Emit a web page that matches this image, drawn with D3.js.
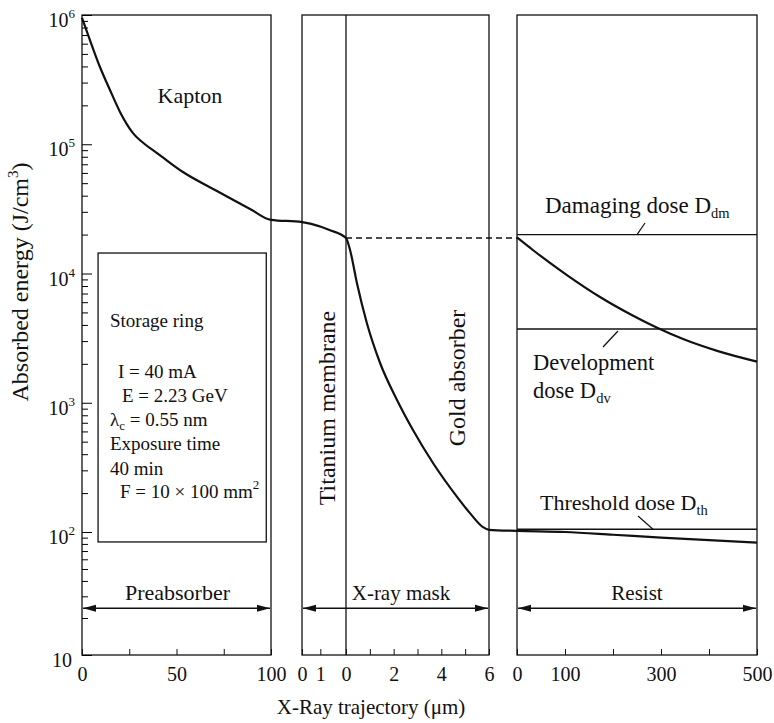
<!DOCTYPE html>
<html lang="en">
<head>
<meta charset="UTF-8">
<script src="https://cdnjs.cloudflare.com/ajax/libs/d3/7.8.5/d3.min.js"></script>
<style>
  body { margin: 0; background: #fff; }
  svg { font-family: "Liberation Serif", "Times New Roman", serif; fill: #111; }
</style>
</head>
<body>
<svg id="chart" width="774" height="723"></svg>
<script>
// depth in each layer (um) and absorbed energy (J/cm3)
const kaptonDepth = [0, 4.2, 9.5, 14.8, 20.1, 27, 33.3, 39.7, 53.4, 71.4, 88.9, 100];
const kaptonDose = [9.5e5, 6.4e5, 3.96e5, 2.63e5, 1.78e5, 1.22e5, 1.0e5, 8.55e4, 6.1e4, 4.35e4, 3.16e4, 2.6e4];
const titanDepth = [0, 0.5, 1.5, 2.4];
const titanDose = [2.5e4, 2.42e4, 2.17e4, 1.88e4];
const goldDepth = [0, 0.17, 0.46, 0.88, 1.43, 2.14, 2.81, 3.65, 4.66, 5.2, 5.75, 6];
const goldDose = [1.88e4, 1.52e4, 8.4e3, 4.1e3, 2.03e3, 1.05e3, 615, 342, 187, 140, 109, 104];
// resist under the gold absorber
const resistDepth = [0, 100, 200, 300, 400, 500];
const resistDoseMasked = [102, 100, 95, 90, 86, 82];
// resist under the membrane only
const resistOpenDepth = [0, 33, 104, 173, 242, 292, 346, 417, 500];
const resistDoseOpen = [1.9e4, 1.52e4, 9.73e3, 6.58e3, 4.71e3, 3.8e3, 3.11e3, 2.52e3, 2.08e3];
const damagingDose = 2.0e4, developmentDose = 3.72e3, thresholdDose = 105;

const yExponents = [1, 2, 3, 4, 5, 6];

const svg = d3.select('#chart');
const y = d3.scaleLog().domain([10, 100, 1e6]).range([655, 532, 15]);
const xK = d3.scaleLinear().domain([0, 100]).range([82, 271]);
const xT = d3.scaleLinear().domain([0, 2.4]).range([302, 346]);
const xG = d3.scaleLinear().domain([0, 6]).range([346, 489]);
const xR = d3.scaleLinear().domain([0, 500]).range([517, 757]);

const yTop = y(1e6), yBot = y(10);
const frame = svg.append('g').attr('fill', 'none').attr('stroke', '#111').attr('stroke-width', 1.3);

// panel frames
[[xK(0), xK(100)], [xT(0), xG(6)], [xR(0), xR(500)]].forEach(([a, b]) => {
    frame.append('rect').attr('x', a).attr('y', yTop).attr('width', b - a).attr('height', yBot - yTop);
});
frame.append('line').attr('x1', xG(0)).attr('x2', xG(0)).attr('y1', yTop).attr('y2', yBot);

// storage ring info box
frame.append('rect')
    .attr('x', xK(8.5)).attr('y', y(1.44e4))
    .attr('width', xK(97.5) - xK(8.5)).attr('height', y(83) - y(1.44e4));

// y ticks (inside)
const minors = [];
yExponents.slice(0, 5).forEach(e => { for (let k = 2; k <= 9; k++) minors.push(k * Math.pow(10, e)); });
const noDomain = g => g.select('.domain').remove();
svg.append('g').attr('transform', `translate(${xK(0)},0)`)
    .call(d3.axisRight(y).tickValues(minors).tickSize(6).tickFormat('')).call(noDomain);
svg.append('g').attr('transform', `translate(${xK(0)},0)`)
    .call(d3.axisRight(y).tickValues(yExponents.map(e => Math.pow(10, e))).tickSize(10).tickFormat('')).call(noDomain);

yExponents.forEach(e => {
    const t = svg.append('text').attr('text-anchor', 'end').attr('font-size', 20)
        .attr('x', e === 1 ? 72 : 75).attr('y', y(Math.pow(10, e)) + 12);
    t.append('tspan').text('10');
    if (e > 1) t.append('tspan').attr('font-size', 13).attr('dy', -9).text(e);
});

// x axes (inside ticks)
function xAxis(scale, values, labelled) {
    svg.append('g').attr('transform', `translate(0,${yBot})`)
        .call(d3.axisBottom(scale).tickValues(values).tickSize(-6).tickPadding(12)
            .tickFormat(d => labelled.includes(d) ? d : ''))
        .call(noDomain)
        .call(g => g.selectAll('text').attr('font-size', 20).attr('font-family', 'Liberation Serif').attr('fill', '#111'))
        .call(g => g.selectAll('line').attr('stroke', '#111'));
}
xAxis(xK, [0, 25, 50, 75, 100], [0, 50, 100]);
xAxis(xT, [0, 1], [0, 1]);
xAxis(xG, [0, 1, 2, 3, 4, 5, 6], [0, 2, 4, 6]);
xAxis(xR, [0, 100, 200, 300, 400, 500], [0, 100, 300, 500]);

// dose levels in resist
const lvl = svg.append('g').attr('stroke', '#111').attr('stroke-width', 1.3);
[damagingDose, developmentDose, thresholdDose].forEach(d => {
    lvl.append('line').attr('x1', xR(0)).attr('x2', xR(500)).attr('y1', y(d)).attr('y2', y(d));
});
svg.append('line')
    .attr('x1', xG(0)).attr('x2', xR(0)).attr('y1', y(goldDose[0])).attr('y2', y(goldDose[0]))
    .attr('stroke', '#111').attr('stroke-width', 1.6).attr('stroke-dasharray', '6,4');

// energy curves
const line = d3.line().curve(d3.curveMonotoneX);
const pts = [
    ...kaptonDepth.map((v, i) => [xK(v), y(kaptonDose[i])]),
    ...titanDepth.map((v, i) => [xT(v), y(titanDose[i])]),
    ...goldDepth.map((v, i) => [xG(v), y(goldDose[i])]),
    ...resistDepth.map((v, i) => [xR(v), y(resistDoseMasked[i])])
];
svg.append('path').attr('d', line(pts)).attr('fill', 'none').attr('stroke', '#111').attr('stroke-width', 2.2);
svg.append('path')
    .attr('d', line(resistOpenDepth.map((v, i) => [xR(v), y(resistDoseOpen[i])])))
    .attr('fill', 'none').attr('stroke', '#111').attr('stroke-width', 2.2);

// arrows
const defs = svg.append('defs');
defs.append('marker').attr('id', 'arr').attr('markerUnits', 'userSpaceOnUse')
    .attr('markerWidth', 14).attr('markerHeight', 8).attr('refX', 13).attr('refY', 4)
    .attr('orient', 'auto-start-reverse')
    .append('path').attr('d', 'M0,0.5 L13,4 L0,7.5 Z').attr('fill', '#111');
const arrowLevel = y(24);
[[xK(0), xK(100), 'Preabsorber', 22, (xK(0) + xK(100)) / 2 + 1],
 [xT(0), xG(6), 'X-ray mask', 21, 401],
 [xR(0), xR(500), 'Resist', 21, (xR(0) + xR(500)) / 2]].forEach(([a, b, label, fs, cx]) => {
    svg.append('line').attr('x1', a + 1).attr('x2', b - 1).attr('y1', arrowLevel).attr('y2', arrowLevel)
        .attr('stroke', '#111').attr('stroke-width', 1.5)
        .attr('marker-start', 'url(#arr)').attr('marker-end', 'url(#arr)');
    svg.append('text').attr('x', cx).attr('y', arrowLevel - 8).attr('text-anchor', 'middle')
        .attr('font-size', fs).text(label);
});

// labels
svg.append('text').attr('x', 190).attr('y', 103).attr('text-anchor', 'middle').attr('font-size', 22).text('Kapton');

const boxLines = [
    ['Storage ring', 110, 327], ['I = 40 mA', 118, 378], ['E = 2.23 GeV', 122, 402],
    ['λ|c| = 0.55 nm', 110, 426], ['Exposure time', 110, 450], ['40 min', 110, 475],
    ['F = 10 × 100 mm^2', 120, 498]
];
boxLines.forEach(([s, x0, y0]) => {
    const t = svg.append('text').attr('x', x0).attr('y', y0).attr('font-size', 19);
    if (s.includes('|')) {
        const p = s.split('|');
        t.append('tspan').text(p[0]);
        t.append('tspan').attr('font-size', 13).attr('dy', 4).text(p[1]);
        t.append('tspan').attr('dy', -4).text(p[2]);
    } else if (s.includes('^')) {
        const p = s.split('^');
        t.append('tspan').text(p[0]);
        t.append('tspan').attr('font-size', 13).attr('dy', -9).text(p[1]);
    } else t.text(s);
});

svg.append('text').attr('transform', 'translate(335,408) rotate(-90)').attr('text-anchor', 'middle')
    .attr('font-size', 24).text('Titanium membrane');
svg.append('text').attr('transform', 'translate(465,378) rotate(-90)').attr('text-anchor', 'middle')
    .attr('font-size', 24).text('Gold absorber');

function doseLabel(x0, y0, main, sub, fs) {
    const t = svg.append('text').attr('x', x0).attr('y', y0).attr('font-size', fs);
    t.append('tspan').text(main);
    t.append('tspan').attr('font-size', 14.5).attr('dy', 5).text(sub);
}
doseLabel(545, 213, 'Damaging dose D', 'dm', 23);
svg.append('text').attr('x', 533).attr('y', 370).attr('font-size', 22.5).text('Development');
doseLabel(533, 398, 'dose D', 'dv', 22.5);
doseLabel(540, 510, 'Threshold dose D', 'th', 22);

const lead = svg.append('g').attr('stroke', '#111').attr('stroke-width', 1.2);
[[645, 223, 637, y(damagingDose)], [618, 331, 603, 347], [638, 516, 653, y(thresholdDose)]].forEach(([a, b, c, d]) => {
    lead.append('line').attr('x1', a).attr('y1', b).attr('x2', c).attr('y2', d);
});

// axis titles
const yt = svg.append('text').attr('transform', 'translate(28,282) rotate(-90)')
    .attr('text-anchor', 'middle').attr('font-size', 24);
yt.append('tspan').text('Absorbed energy (J/cm');
yt.append('tspan').attr('font-size', 15).attr('dy', -10).text('3');
yt.append('tspan').attr('dy', 10).text(')');
svg.append('text').attr('x', 371).attr('y', 714).attr('text-anchor', 'middle').attr('font-size', 21)
    .text('X-Ray trajectory (μm)');
</script>
</body>
</html>
